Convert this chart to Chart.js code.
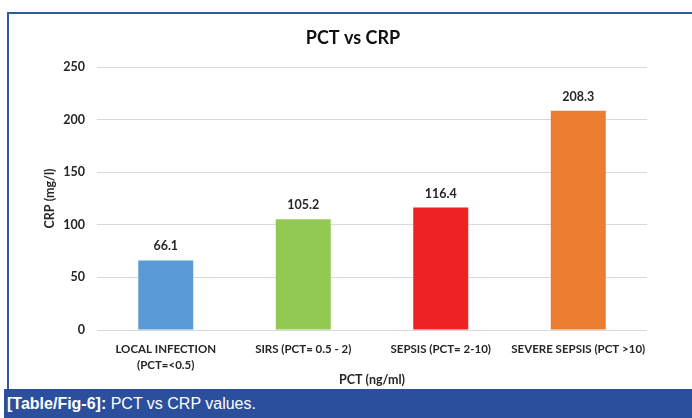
<!DOCTYPE html>
<html>
<head>
<meta charset="utf-8">
<script src="https://cdn.jsdelivr.net/npm/chart.js@4"></script>
<style>
  html, body { margin: 0; padding: 0; background: #fff; }
  #wrap { position: relative; width: 692px; height: 418px; overflow: hidden; }
  #frame { position: absolute; left: 7px; top: 12px; width: 700px; height: 380px;
           border-left: 2px solid #3158a6; border-top: 2px solid #3158a6; box-sizing: border-box; }
  #caption { position: absolute; left: 4px; top: 389px; width: 700px; height: 29px; background: #2b4f9c;
             color: #fff; font-family: "Liberation Sans", Arial, sans-serif; font-size: 16px;
             line-height: 30px; padding-left: 3px; box-sizing: border-box; }
  #caption b { font-weight: bold; }
  #chart { position: absolute; left: 0; top: 0; }
</style>
</head>
<body>
<div id="wrap">
  <div id="frame"></div>
  <canvas id="chart" width="692" height="389"></canvas>
  <div id="caption"><b>[Table/Fig-6]:</b> PCT vs CRP values.</div>
</div>
<script>
// данные с графика
const categories = [['LOCAL INFECTION', '(PCT=<0.5)'], 'SIRS (PCT= 0.5 - 2)', 'SEPSIS (PCT= 2-10)', 'SEVERE SEPSIS (PCT >10)'];
const crpValues = [66.1, 105.2, 116.4, 208.3];
const barColors = ['#5b9bd5', '#92c953', '#ee2125', '#ed7d31'];
const yTicks = [0, 50, 100, 150, 200, 250];

const FONT = 'Lato, "Open Sans", sans-serif';

// подписи значений над столбцами
const valueLabels = {
  id: 'valueLabels',
  afterDatasetsDraw(chart) {
    const ctx = chart.ctx;
    const meta = chart.getDatasetMeta(0);
    ctx.save();
    ctx.font = 'bold 12.5px ' + FONT;
    ctx.fillStyle = '#262626';
    ctx.textAlign = 'center';
    ctx.textBaseline = 'middle';
    meta.data.forEach((bar, i) => {
      ctx.fillText(crpValues[i].toFixed(1), bar.x, bar.y - 14);
    });
    ctx.restore();
  }
};

new Chart(document.getElementById('chart'), {
  type: 'bar',
  data: {
    labels: categories,
    datasets: [{
      data: crpValues,
      backgroundColor: barColors,
      borderWidth: 0,
      barPercentage: 0.4,
      categoryPercentage: 1
    }]
  },
  options: {
    responsive: false,
    animation: false,
    layout: { padding: { left: 14, right: 0, top: 0, bottom: 0 } },
    plugins: {
      legend: { display: false },
      tooltip: { enabled: false },
      title: {
        display: true,
        text: 'PCT vs CRP',
        color: '#111',
        font: { family: FONT, size: 18, weight: 'bold', lineHeight: 1.2 },
        padding: { top: 27, bottom: 18.4 }
      }
    },
    scales: {
      x: {
        grid: { display: false, drawTicks: false },
        border: { display: false },
        ticks: {
          color: '#262626',
          font: { family: FONT, size: 11.5, weight: 'bold', lineHeight: 1.35 },
          padding: 12,
          maxRotation: 0,
          autoSkip: false
        },
        title: {
          display: true,
          text: 'PCT (ng/ml)',
          color: '#262626',
          font: { family: FONT, size: 12.5, weight: 'bold', lineHeight: 1.2 },
          padding: { top: 0, bottom: 2 }
        },
        afterFit(scale) { scale.height = 59; }
      },
      y: {
        min: 0,
        max: 250,
        afterBuildTicks(scale) { scale.ticks = yTicks.map(v => ({ value: v })); },
        grid: { color: '#d9d9d9', lineWidth: 1, drawTicks: false },
        border: { display: false },
        ticks: {
          color: '#262626',
          font: { family: FONT, size: 12.5, weight: 'bold' },
          padding: 12
        },
        title: {
          display: true,
          text: 'CRP (mg/l)',
          color: '#262626',
          font: { family: FONT, size: 12.5, weight: 'bold', lineHeight: 1.2 },
          padding: { top: 28.5, bottom: 0 }
        },
        afterFit(scale) { scale.width = 83; }
      },
      // пустая ось справа, только для отступа
      yRight: {
        position: 'right',
        min: 0,
        max: 250,
        grid: { display: false, drawTicks: false },
        border: { display: false },
        ticks: { display: false },
        afterFit(scale) { scale.width = 45; }
      }
    }
  },
  plugins: [valueLabels]
});
</script>
</body>
</html>
